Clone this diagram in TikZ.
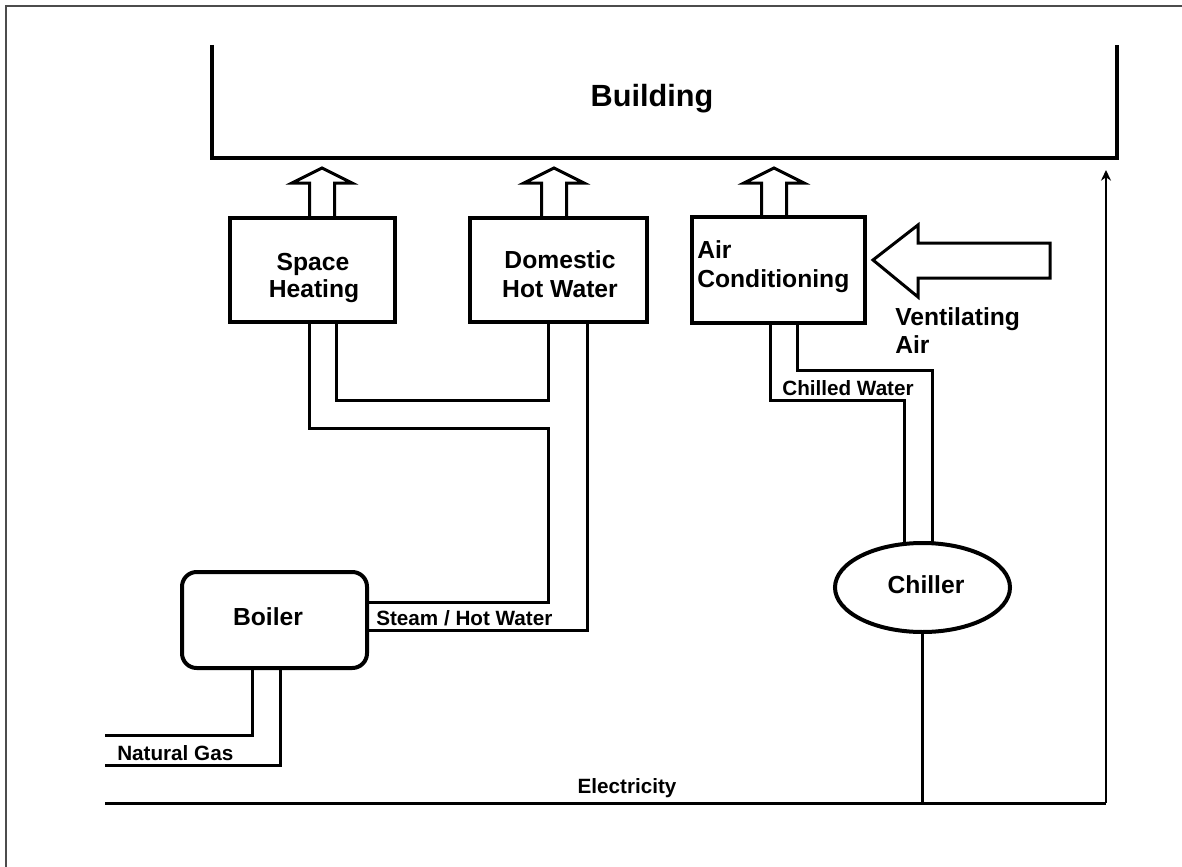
\documentclass[tikz,border=0pt]{standalone}
\usepackage{fontspec}
\setmainfont{Liberation Sans}
\usetikzlibrary{arrows.meta,shapes.geometric}
\begin{document}
\begin{tikzpicture}[x=0.75pt,y=-0.75pt,
  unit/.style={draw, line width=3pt, inner sep=0pt},
  pipe/.style={line width=2.25pt, line join=miter},
  hollow/.style={line width=2.25pt, line join=miter},
  big/.style={font=\fontsize{18.5}{20}\selectfont\bfseries, inner sep=0pt},
  small/.style={font=\fontsize{15.5}{17}\selectfont\bfseries, inner sep=0pt}]
\useasboundingbox (0,0) rectangle (1182,867);
\draw[line width=1.2pt, black!70] (6,867) -- (6,6) -- (1182,6);

% building
\draw[line width=3pt, line join=miter] (212,45) -- (212,158) -- (1117,158) -- (1117,45);
\node[font=\fontsize{23}{25}\selectfont\bfseries, anchor=base, inner sep=0pt] (bldg) at (652,107) {Building};

% units
\node[unit, minimum width=123.75pt, minimum height=78pt] (sh) at (312.5,270) {};
\node[unit, minimum width=132.75pt, minimum height=78pt] (dhw) at (558.5,270) {};
\node[unit, minimum width=129.75pt, minimum height=79.5pt] (ac) at (778.5,270) {};
\node[unit, rounded corners=11pt, minimum width=138.75pt, minimum height=72pt] (boiler) at (274.5,620) {};
\node[unit, ellipse, minimum width=131.25pt, minimum height=66.75pt] (ch) at (922.5,587.5) {};

% labels
\node[big, anchor=base] (shl1) at (313,270) {Space};
\node[big, anchor=base] (shl2) at (314,297) {Heating};
\node[big, anchor=base] (dhwl1) at (560,268) {Domestic};
\node[big, anchor=base] (dhwl2) at (560,297) {Hot Water};
\node[big, anchor=base west] (acl1) at (697,258) {Air};
\node[big, anchor=base west] (acl2) at (697,287) {Conditioning};
\node[big, anchor=base west] (vl1) at (895,325) {Ventilating};
\node[big, anchor=base west] (vl2) at (895,353) {Air};
\node[big, anchor=base] (bl) at (268,625) {Boiler};
\node[big, anchor=base] (cl) at (926,593) {Chiller};
\node[small, anchor=base west] (swl) at (376,625) {Steam / Hot Water};
\node[small, anchor=base west] (ngl) at (117,760) {Natural Gas};
\node[small, anchor=base] (cwl) at (848,395) {Chilled Water};
\node[small, anchor=base] (el) at (627,793) {Electricity};

% hollow arrows to building
\foreach \n/\c in {sh/322, dhw/554, ac/774}{
  \draw[hollow] (\c-12.5,0 |- \n.north) -- (\c-12.5,183) -- (\c-30,183) -- (\c,168)
    -- (\c+30,183) -- (\c+12.5,183) -- (\c+12.5,0 |- \n.north);
}

% ventilating air arrow
\coordinate (venttip) at (873,260);
\draw[hollow] (venttip) -- (918,225) -- (918,243) -- (1050,243) -- (1050,278)
  -- (918,278) -- (918,297) -- cycle;

% heating pipes
\draw[pipe] (336,0 |- sh.south) -- (336,400) -- (548,400) -- (548,0 |- dhw.south);
\draw[pipe] (309,0 |- sh.south) -- (309,428) -- (548,428) -- (548,602) -- (boiler.east |- 0,602);
\draw[pipe] (587,0 |- dhw.south) -- (587,630) -- (boiler.east |- 0,630);

% chilled water pipes
\draw[pipe] (770,0 |- ac.south) -- (770,400) -- (904,400) -- (904,545);
\draw[pipe] (797,0 |- ac.south) -- (797,370) -- (932,370) -- (932,544);

% natural gas
\coordinate (ng1) at (105,735);
\coordinate (ng2) at (105,765);
\draw[pipe] (252,0 |- boiler.south) -- (252,735) -- (ng1);
\draw[pipe] (280,0 |- boiler.south) -- (280,765) -- (ng2);

% electricity
\coordinate (elec) at (105,803);
\coordinate (ecorner) at (1106,803);
\coordinate (etop) at (1106,170);
\draw[pipe] (elec) -- (ecorner);
\draw[line width=1.8pt, -{Stealth[length=8pt,width=7.5pt]}] (ecorner) -- (etop);
\draw[pipe] (ch.south) -- (ch.south |- elec);
\end{tikzpicture}
\end{document}
